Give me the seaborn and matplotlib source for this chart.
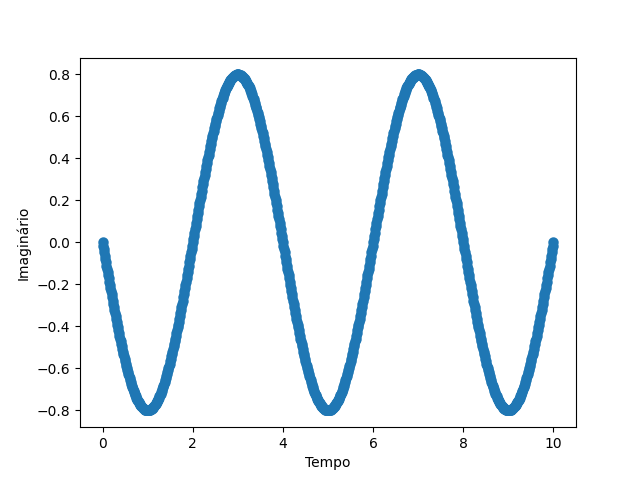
import matplotlib
matplotlib.use('Agg')
import matplotlib.pyplot as plt
import pandas as pd
import seaborn as sns

# ── dados (passo de 0.0125 no tempo) ─────────────────────────────────────────
tempo = [
    0.0000, 0.0125, 0.0250, 0.0375, 0.0500, 0.0625, 0.0750, 0.0875, 0.1000, 0.1125,
    0.1250, 0.1375, 0.1500, 0.1625, 0.1750, 0.1875, 0.2000, 0.2125, 0.2250, 0.2375,
    0.2500, 0.2625, 0.2750, 0.2875, 0.3000, 0.3125, 0.3250, 0.3375, 0.3500, 0.3625,
    0.3750, 0.3875, 0.4000, 0.4125, 0.4250, 0.4375, 0.4500, 0.4625, 0.4750, 0.4875,
    0.5000, 0.5125, 0.5250, 0.5375, 0.5500, 0.5625, 0.5750, 0.5875, 0.6000, 0.6125,
    0.6250, 0.6375, 0.6500, 0.6625, 0.6750, 0.6875, 0.7000, 0.7125, 0.7250, 0.7375,
    0.7500, 0.7625, 0.7750, 0.7875, 0.8000, 0.8125, 0.8250, 0.8375, 0.8500, 0.8625,
    0.8750, 0.8875, 0.9000, 0.9125, 0.9250, 0.9375, 0.9500, 0.9625, 0.9750, 0.9875,
    1.0000, 1.0125, 1.0250, 1.0375, 1.0500, 1.0625, 1.0750, 1.0875, 1.1000, 1.1125,
    1.1250, 1.1375, 1.1500, 1.1625, 1.1750, 1.1875, 1.2000, 1.2125, 1.2250, 1.2375,
    1.2500, 1.2625, 1.2750, 1.2875, 1.3000, 1.3125, 1.3250, 1.3375, 1.3500, 1.3625,
    1.3750, 1.3875, 1.4000, 1.4125, 1.4250, 1.4375, 1.4500, 1.4625, 1.4750, 1.4875,
    1.5000, 1.5125, 1.5250, 1.5375, 1.5500, 1.5625, 1.5750, 1.5875, 1.6000, 1.6125,
    1.6250, 1.6375, 1.6500, 1.6625, 1.6750, 1.6875, 1.7000, 1.7125, 1.7250, 1.7375,
    1.7500, 1.7625, 1.7750, 1.7875, 1.8000, 1.8125, 1.8250, 1.8375, 1.8500, 1.8625,
    1.8750, 1.8875, 1.9000, 1.9125, 1.9250, 1.9375, 1.9500, 1.9625, 1.9750, 1.9875,
    2.0000, 2.0125, 2.0250, 2.0375, 2.0500, 2.0625, 2.0750, 2.0875, 2.1000, 2.1125,
    2.1250, 2.1375, 2.1500, 2.1625, 2.1750, 2.1875, 2.2000, 2.2125, 2.2250, 2.2375,
    2.2500, 2.2625, 2.2750, 2.2875, 2.3000, 2.3125, 2.3250, 2.3375, 2.3500, 2.3625,
    2.3750, 2.3875, 2.4000, 2.4125, 2.4250, 2.4375, 2.4500, 2.4625, 2.4750, 2.4875,
    2.5000, 2.5125, 2.5250, 2.5375, 2.5500, 2.5625, 2.5750, 2.5875, 2.6000, 2.6125,
    2.6250, 2.6375, 2.6500, 2.6625, 2.6750, 2.6875, 2.7000, 2.7125, 2.7250, 2.7375,
    2.7500, 2.7625, 2.7750, 2.7875, 2.8000, 2.8125, 2.8250, 2.8375, 2.8500, 2.8625,
    2.8750, 2.8875, 2.9000, 2.9125, 2.9250, 2.9375, 2.9500, 2.9625, 2.9750, 2.9875,
    3.0000, 3.0125, 3.0250, 3.0375, 3.0500, 3.0625, 3.0750, 3.0875, 3.1000, 3.1125,
    3.1250, 3.1375, 3.1500, 3.1625, 3.1750, 3.1875, 3.2000, 3.2125, 3.2250, 3.2375,
    3.2500, 3.2625, 3.2750, 3.2875, 3.3000, 3.3125, 3.3250, 3.3375, 3.3500, 3.3625,
    3.3750, 3.3875, 3.4000, 3.4125, 3.4250, 3.4375, 3.4500, 3.4625, 3.4750, 3.4875,
    3.5000, 3.5125, 3.5250, 3.5375, 3.5500, 3.5625, 3.5750, 3.5875, 3.6000, 3.6125,
    3.6250, 3.6375, 3.6500, 3.6625, 3.6750, 3.6875, 3.7000, 3.7125, 3.7250, 3.7375,
    3.7500, 3.7625, 3.7750, 3.7875, 3.8000, 3.8125, 3.8250, 3.8375, 3.8500, 3.8625,
    3.8750, 3.8875, 3.9000, 3.9125, 3.9250, 3.9375, 3.9500, 3.9625, 3.9750, 3.9875,
    4.0000, 4.0125, 4.0250, 4.0375, 4.0500, 4.0625, 4.0750, 4.0875, 4.1000, 4.1125,
    4.1250, 4.1375, 4.1500, 4.1625, 4.1750, 4.1875, 4.2000, 4.2125, 4.2250, 4.2375,
    4.2500, 4.2625, 4.2750, 4.2875, 4.3000, 4.3125, 4.3250, 4.3375, 4.3500, 4.3625,
    4.3750, 4.3875, 4.4000, 4.4125, 4.4250, 4.4375, 4.4500, 4.4625, 4.4750, 4.4875,
    4.5000, 4.5125, 4.5250, 4.5375, 4.5500, 4.5625, 4.5750, 4.5875, 4.6000, 4.6125,
    4.6250, 4.6375, 4.6500, 4.6625, 4.6750, 4.6875, 4.7000, 4.7125, 4.7250, 4.7375,
    4.7500, 4.7625, 4.7750, 4.7875, 4.8000, 4.8125, 4.8250, 4.8375, 4.8500, 4.8625,
    4.8750, 4.8875, 4.9000, 4.9125, 4.9250, 4.9375, 4.9500, 4.9625, 4.9750, 4.9875,
    5.0000, 5.0125, 5.0250, 5.0375, 5.0500, 5.0625, 5.0750, 5.0875, 5.1000, 5.1125,
    5.1250, 5.1375, 5.1500, 5.1625, 5.1750, 5.1875, 5.2000, 5.2125, 5.2250, 5.2375,
    5.2500, 5.2625, 5.2750, 5.2875, 5.3000, 5.3125, 5.3250, 5.3375, 5.3500, 5.3625,
    5.3750, 5.3875, 5.4000, 5.4125, 5.4250, 5.4375, 5.4500, 5.4625, 5.4750, 5.4875,
    5.5000, 5.5125, 5.5250, 5.5375, 5.5500, 5.5625, 5.5750, 5.5875, 5.6000, 5.6125,
    5.6250, 5.6375, 5.6500, 5.6625, 5.6750, 5.6875, 5.7000, 5.7125, 5.7250, 5.7375,
    5.7500, 5.7625, 5.7750, 5.7875, 5.8000, 5.8125, 5.8250, 5.8375, 5.8500, 5.8625,
    5.8750, 5.8875, 5.9000, 5.9125, 5.9250, 5.9375, 5.9500, 5.9625, 5.9750, 5.9875,
    6.0000, 6.0125, 6.0250, 6.0375, 6.0500, 6.0625, 6.0750, 6.0875, 6.1000, 6.1125,
    6.1250, 6.1375, 6.1500, 6.1625, 6.1750, 6.1875, 6.2000, 6.2125, 6.2250, 6.2375,
    6.2500, 6.2625, 6.2750, 6.2875, 6.3000, 6.3125, 6.3250, 6.3375, 6.3500, 6.3625,
    6.3750, 6.3875, 6.4000, 6.4125, 6.4250, 6.4375, 6.4500, 6.4625, 6.4750, 6.4875,
    6.5000, 6.5125, 6.5250, 6.5375, 6.5500, 6.5625, 6.5750, 6.5875, 6.6000, 6.6125,
    6.6250, 6.6375, 6.6500, 6.6625, 6.6750, 6.6875, 6.7000, 6.7125, 6.7250, 6.7375,
    6.7500, 6.7625, 6.7750, 6.7875, 6.8000, 6.8125, 6.8250, 6.8375, 6.8500, 6.8625,
    6.8750, 6.8875, 6.9000, 6.9125, 6.9250, 6.9375, 6.9500, 6.9625, 6.9750, 6.9875,
    7.0000, 7.0125, 7.0250, 7.0375, 7.0500, 7.0625, 7.0750, 7.0875, 7.1000, 7.1125,
    7.1250, 7.1375, 7.1500, 7.1625, 7.1750, 7.1875, 7.2000, 7.2125, 7.2250, 7.2375,
    7.2500, 7.2625, 7.2750, 7.2875, 7.3000, 7.3125, 7.3250, 7.3375, 7.3500, 7.3625,
    7.3750, 7.3875, 7.4000, 7.4125, 7.4250, 7.4375, 7.4500, 7.4625, 7.4750, 7.4875,
    7.5000, 7.5125, 7.5250, 7.5375, 7.5500, 7.5625, 7.5750, 7.5875, 7.6000, 7.6125,
    7.6250, 7.6375, 7.6500, 7.6625, 7.6750, 7.6875, 7.7000, 7.7125, 7.7250, 7.7375,
    7.7500, 7.7625, 7.7750, 7.7875, 7.8000, 7.8125, 7.8250, 7.8375, 7.8500, 7.8625,
    7.8750, 7.8875, 7.9000, 7.9125, 7.9250, 7.9375, 7.9500, 7.9625, 7.9750, 7.9875,
    8.0000, 8.0125, 8.0250, 8.0375, 8.0500, 8.0625, 8.0750, 8.0875, 8.1000, 8.1125,
    8.1250, 8.1375, 8.1500, 8.1625, 8.1750, 8.1875, 8.2000, 8.2125, 8.2250, 8.2375,
    8.2500, 8.2625, 8.2750, 8.2875, 8.3000, 8.3125, 8.3250, 8.3375, 8.3500, 8.3625,
    8.3750, 8.3875, 8.4000, 8.4125, 8.4250, 8.4375, 8.4500, 8.4625, 8.4750, 8.4875,
    8.5000, 8.5125, 8.5250, 8.5375, 8.5500, 8.5625, 8.5750, 8.5875, 8.6000, 8.6125,
    8.6250, 8.6375, 8.6500, 8.6625, 8.6750, 8.6875, 8.7000, 8.7125, 8.7250, 8.7375,
    8.7500, 8.7625, 8.7750, 8.7875, 8.8000, 8.8125, 8.8250, 8.8375, 8.8500, 8.8625,
    8.8750, 8.8875, 8.9000, 8.9125, 8.9250, 8.9375, 8.9500, 8.9625, 8.9750, 8.9875,
    9.0000, 9.0125, 9.0250, 9.0375, 9.0500, 9.0625, 9.0750, 9.0875, 9.1000, 9.1125,
    9.1250, 9.1375, 9.1500, 9.1625, 9.1750, 9.1875, 9.2000, 9.2125, 9.2250, 9.2375,
    9.2500, 9.2625, 9.2750, 9.2875, 9.3000, 9.3125, 9.3250, 9.3375, 9.3500, 9.3625,
    9.3750, 9.3875, 9.4000, 9.4125, 9.4250, 9.4375, 9.4500, 9.4625, 9.4750, 9.4875,
    9.5000, 9.5125, 9.5250, 9.5375, 9.5500, 9.5625, 9.5750, 9.5875, 9.6000, 9.6125,
    9.6250, 9.6375, 9.6500, 9.6625, 9.6750, 9.6875, 9.7000, 9.7125, 9.7250, 9.7375,
    9.7500, 9.7625, 9.7750, 9.7875, 9.8000, 9.8125, 9.8250, 9.8375, 9.8500, 9.8625,
    9.8750, 9.8875, 9.9000, 9.9125, 9.9250, 9.9375, 9.9500, 9.9625, 9.9750, 9.9875,
    10.0000,
]

imaginario = [
    # 0 -> 1
    0.000, -0.016, -0.031, -0.047, -0.063, -0.078, -0.094, -0.110, -0.125, -0.141,
    -0.156, -0.171, -0.187, -0.202, -0.217, -0.232, -0.247, -0.262, -0.277, -0.292,
    -0.306, -0.321, -0.335, -0.349, -0.363, -0.377, -0.391, -0.405, -0.418, -0.431,
    -0.444, -0.458, -0.470, -0.483, -0.495, -0.508, -0.520, -0.531, -0.543, -0.554,
    -0.566, -0.577, -0.587, -0.598, -0.608, -0.618, -0.628, -0.638, -0.647, -0.656,
    -0.665, -0.674, -0.682, -0.690, -0.698, -0.706, -0.713, -0.720, -0.727, -0.733,
    -0.739, -0.745, -0.751, -0.756, -0.761, -0.766, -0.770, -0.774, -0.778, -0.781,
    -0.785, -0.788, -0.790, -0.793, -0.794, -0.796, -0.798, -0.799, -0.799, -0.800,
    # 1 -> 2
    -0.800, -0.800, -0.799, -0.799, -0.798, -0.796, -0.794, -0.793, -0.790, -0.788,
    -0.785, -0.781, -0.778, -0.774, -0.770, -0.766, -0.761, -0.756, -0.751, -0.745,
    -0.739, -0.733, -0.727, -0.720, -0.713, -0.706, -0.698, -0.690, -0.682, -0.674,
    -0.665, -0.656, -0.647, -0.638, -0.628, -0.618, -0.608, -0.598, -0.587, -0.577,
    -0.566, -0.554, -0.543, -0.531, -0.520, -0.508, -0.495, -0.483, -0.470, -0.458,
    -0.444, -0.431, -0.418, -0.405, -0.391, -0.377, -0.363, -0.349, -0.335, -0.321,
    -0.306, -0.292, -0.277, -0.262, -0.247, -0.232, -0.217, -0.202, -0.187, -0.171,
    -0.156, -0.141, -0.125, -0.110, -0.094, -0.078, -0.063, -0.047, -0.031, -0.016,
    # 2 -> 3
    0.000, 0.016, 0.031, 0.047, 0.063, 0.078, 0.094, 0.110, 0.125, 0.141,
    0.156, 0.171, 0.187, 0.202, 0.217, 0.232, 0.247, 0.262, 0.277, 0.292,
    0.306, 0.321, 0.335, 0.349, 0.363, 0.377, 0.391, 0.405, 0.418, 0.431,
    0.444, 0.458, 0.470, 0.483, 0.495, 0.508, 0.520, 0.531, 0.543, 0.554,
    0.566, 0.577, 0.587, 0.598, 0.608, 0.618, 0.628, 0.638, 0.647, 0.656,
    0.665, 0.674, 0.682, 0.690, 0.698, 0.706, 0.713, 0.720, 0.727, 0.733,
    0.739, 0.745, 0.751, 0.756, 0.761, 0.766, 0.770, 0.774, 0.778, 0.781,
    0.785, 0.788, 0.790, 0.793, 0.794, 0.796, 0.798, 0.799, 0.799, 0.800,
    # 3 -> 4
    0.800, 0.800, 0.799, 0.799, 0.798, 0.796, 0.794, 0.793, 0.790, 0.788,
    0.785, 0.781, 0.778, 0.774, 0.770, 0.766, 0.761, 0.756, 0.751, 0.745,
    0.739, 0.733, 0.727, 0.720, 0.713, 0.706, 0.698, 0.690, 0.682, 0.674,
    0.665, 0.656, 0.647, 0.638, 0.628, 0.618, 0.608, 0.598, 0.587, 0.577,
    0.566, 0.554, 0.543, 0.531, 0.520, 0.508, 0.495, 0.483, 0.470, 0.458,
    0.444, 0.431, 0.418, 0.405, 0.391, 0.377, 0.363, 0.349, 0.335, 0.321,
    0.306, 0.292, 0.277, 0.262, 0.247, 0.232, 0.217, 0.202, 0.187, 0.171,
    0.156, 0.141, 0.125, 0.110, 0.094, 0.078, 0.063, 0.047, 0.031, 0.016,
    # 4 -> 5
    0.000, -0.016, -0.031, -0.047, -0.063, -0.078, -0.094, -0.110, -0.125, -0.141,
    -0.156, -0.171, -0.187, -0.202, -0.217, -0.232, -0.247, -0.262, -0.277, -0.292,
    -0.306, -0.321, -0.335, -0.349, -0.363, -0.377, -0.391, -0.405, -0.418, -0.431,
    -0.444, -0.458, -0.470, -0.483, -0.495, -0.508, -0.520, -0.531, -0.543, -0.554,
    -0.566, -0.577, -0.587, -0.598, -0.608, -0.618, -0.628, -0.638, -0.647, -0.656,
    -0.665, -0.674, -0.682, -0.690, -0.698, -0.706, -0.713, -0.720, -0.727, -0.733,
    -0.739, -0.745, -0.751, -0.756, -0.761, -0.766, -0.770, -0.774, -0.778, -0.781,
    -0.785, -0.788, -0.790, -0.793, -0.794, -0.796, -0.798, -0.799, -0.799, -0.800,
    # 5 -> 6
    -0.800, -0.800, -0.799, -0.799, -0.798, -0.796, -0.794, -0.793, -0.790, -0.788,
    -0.785, -0.781, -0.778, -0.774, -0.770, -0.766, -0.761, -0.756, -0.751, -0.745,
    -0.739, -0.733, -0.727, -0.720, -0.713, -0.706, -0.698, -0.690, -0.682, -0.674,
    -0.665, -0.656, -0.647, -0.638, -0.628, -0.618, -0.608, -0.598, -0.587, -0.577,
    -0.566, -0.554, -0.543, -0.531, -0.520, -0.508, -0.495, -0.483, -0.470, -0.458,
    -0.444, -0.431, -0.418, -0.405, -0.391, -0.377, -0.363, -0.349, -0.335, -0.321,
    -0.306, -0.292, -0.277, -0.262, -0.247, -0.232, -0.217, -0.202, -0.187, -0.171,
    -0.156, -0.141, -0.125, -0.110, -0.094, -0.078, -0.063, -0.047, -0.031, -0.016,
    # 6 -> 7
    0.000, 0.016, 0.031, 0.047, 0.063, 0.078, 0.094, 0.110, 0.125, 0.141,
    0.156, 0.171, 0.187, 0.202, 0.217, 0.232, 0.247, 0.262, 0.277, 0.292,
    0.306, 0.321, 0.335, 0.349, 0.363, 0.377, 0.391, 0.405, 0.418, 0.431,
    0.444, 0.458, 0.470, 0.483, 0.495, 0.508, 0.520, 0.531, 0.543, 0.554,
    0.566, 0.577, 0.587, 0.598, 0.608, 0.618, 0.628, 0.638, 0.647, 0.656,
    0.665, 0.674, 0.682, 0.690, 0.698, 0.706, 0.713, 0.720, 0.727, 0.733,
    0.739, 0.745, 0.751, 0.756, 0.761, 0.766, 0.770, 0.774, 0.778, 0.781,
    0.785, 0.788, 0.790, 0.793, 0.794, 0.796, 0.798, 0.799, 0.799, 0.800,
    # 7 -> 8
    0.800, 0.800, 0.799, 0.799, 0.798, 0.796, 0.794, 0.793, 0.790, 0.788,
    0.785, 0.781, 0.778, 0.774, 0.770, 0.766, 0.761, 0.756, 0.751, 0.745,
    0.739, 0.733, 0.727, 0.720, 0.713, 0.706, 0.698, 0.690, 0.682, 0.674,
    0.665, 0.656, 0.647, 0.638, 0.628, 0.618, 0.608, 0.598, 0.587, 0.577,
    0.566, 0.554, 0.543, 0.531, 0.520, 0.508, 0.495, 0.483, 0.470, 0.458,
    0.444, 0.431, 0.418, 0.405, 0.391, 0.377, 0.363, 0.349, 0.335, 0.321,
    0.306, 0.292, 0.277, 0.262, 0.247, 0.232, 0.217, 0.202, 0.187, 0.171,
    0.156, 0.141, 0.125, 0.110, 0.094, 0.078, 0.063, 0.047, 0.031, 0.016,
    # 8 -> 9
    0.000, -0.016, -0.031, -0.047, -0.063, -0.078, -0.094, -0.110, -0.125, -0.141,
    -0.156, -0.171, -0.187, -0.202, -0.217, -0.232, -0.247, -0.262, -0.277, -0.292,
    -0.306, -0.321, -0.335, -0.349, -0.363, -0.377, -0.391, -0.405, -0.418, -0.431,
    -0.444, -0.458, -0.470, -0.483, -0.495, -0.508, -0.520, -0.531, -0.543, -0.554,
    -0.566, -0.577, -0.587, -0.598, -0.608, -0.618, -0.628, -0.638, -0.647, -0.656,
    -0.665, -0.674, -0.682, -0.690, -0.698, -0.706, -0.713, -0.720, -0.727, -0.733,
    -0.739, -0.745, -0.751, -0.756, -0.761, -0.766, -0.770, -0.774, -0.778, -0.781,
    -0.785, -0.788, -0.790, -0.793, -0.794, -0.796, -0.798, -0.799, -0.799, -0.800,
    # 9 -> 10
    -0.800, -0.800, -0.799, -0.799, -0.798, -0.796, -0.794, -0.793, -0.790, -0.788,
    -0.785, -0.781, -0.778, -0.774, -0.770, -0.766, -0.761, -0.756, -0.751, -0.745,
    -0.739, -0.733, -0.727, -0.720, -0.713, -0.706, -0.698, -0.690, -0.682, -0.674,
    -0.665, -0.656, -0.647, -0.638, -0.628, -0.618, -0.608, -0.598, -0.587, -0.577,
    -0.566, -0.554, -0.543, -0.531, -0.520, -0.508, -0.495, -0.483, -0.470, -0.458,
    -0.444, -0.431, -0.418, -0.405, -0.391, -0.377, -0.363, -0.349, -0.335, -0.321,
    -0.306, -0.292, -0.277, -0.262, -0.247, -0.232, -0.217, -0.202, -0.187, -0.171,
    -0.156, -0.141, -0.125, -0.110, -0.094, -0.078, -0.063, -0.047, -0.031, -0.016,
    0.000,
]

COR = '#1f77b4'

df = pd.DataFrame({'Tempo': tempo, 'Imaginário': imaginario})

fig, ax = plt.subplots(figsize=(6.4, 4.8), dpi=100)
sns.scatterplot(data=df, x='Tempo', y='Imaginário', color=COR,
                s=36, edgecolor=COR, linewidth=1.5, ax=ax)
ax.set_xlabel('Tempo')
ax.set_ylabel('Imaginário')

fig.savefig('out.png', dpi=100)
